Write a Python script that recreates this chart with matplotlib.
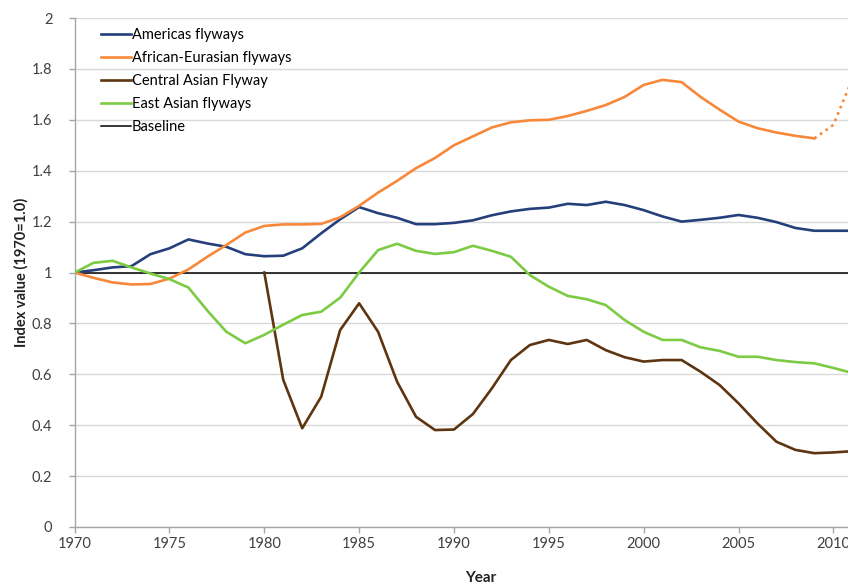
import matplotlib.pyplot as plt
import numpy as np

plt.rcParams['font.family'] = ['Lato', 'DejaVu Sans']

years = list(range(1970, 2012))

americas = [1.00, 1.009, 1.02, 1.025, 1.072, 1.095, 1.13, 1.114, 1.101, 1.072,
            1.064, 1.066, 1.095, 1.154, 1.209, 1.257, 1.233, 1.215, 1.19, 1.19,
            1.195, 1.205, 1.225, 1.24, 1.25, 1.255, 1.27, 1.265, 1.278, 1.265,
            1.245, 1.22, 1.20, 1.207, 1.215, 1.226, 1.215, 1.198, 1.175, 1.164,
            1.164, 1.164]

african_eurasian = [1.00, 0.979, 0.961, 0.953, 0.955, 0.976, 1.012, 1.062, 1.108, 1.157,
                    1.183, 1.189, 1.189, 1.191, 1.217, 1.262, 1.314, 1.36, 1.41, 1.45,
                    1.50, 1.535, 1.57, 1.59, 1.598, 1.60, 1.615, 1.635, 1.658, 1.69,
                    1.737, 1.757, 1.748, 1.69, 1.64, 1.593, 1.567, 1.55, 1.537, 1.527,
                    1.58, 1.76]
# last two years are provisional (dotted)
provisional_from = 2009

central_years = list(range(1980, 2012))
central_asian = [1.00, 0.578, 0.388, 0.512, 0.774, 0.879, 0.767, 0.571, 0.433, 0.381,
                 0.383, 0.444, 0.545, 0.656, 0.715, 0.735, 0.719, 0.735, 0.695, 0.667,
                 0.65, 0.656, 0.656, 0.61, 0.558, 0.486, 0.407, 0.335, 0.303, 0.29,
                 0.293, 0.298]

east_asian = [1.00, 1.038, 1.046, 1.02, 0.996, 0.974, 0.941, 0.85, 0.767, 0.722,
              0.755, 0.795, 0.833, 0.846, 0.901, 1.00, 1.088, 1.113, 1.085, 1.073,
              1.08, 1.105, 1.085, 1.062, 0.99, 0.944, 0.908, 0.895, 0.872, 0.813,
              0.767, 0.735, 0.735, 0.706, 0.692, 0.669, 0.669, 0.656, 0.648, 0.643,
              0.625, 0.605]

baseline = 1.0

c_blue = '#243F7A'
c_orange = '#F7883A'
c_brown = '#5E3511'
c_green = '#7DCA43'

fig = plt.figure(figsize=(8.48, 5.85), dpi=100)
# axes run past the right edge of the picture, like the cropped original
ax = fig.add_axes([74.6 / 848, 58 / 585, 796.7 / 848, 509 / 585])

yrs = np.array(years)
ae = np.array(african_eurasian)
solid = yrs <= provisional_from

ax.plot(years, americas, color=c_blue, lw=1.9, label='Americas flyways', zorder=3)
ax.plot(yrs[solid], ae[solid], color=c_orange, lw=1.9, label='African-Eurasian flyways', zorder=3)
ax.plot(yrs[yrs >= provisional_from], ae[yrs >= provisional_from], color=c_orange, lw=1.9,
        ls=(0, (1, 1.6)), zorder=3)
ax.plot(central_years, central_asian, color=c_brown, lw=1.9, label='Central Asian Flyway', zorder=3)
ax.plot(years, east_asian, color=c_green, lw=1.9, label='East Asian flyways', zorder=3)
ax.axhline(baseline, color='black', lw=1.1, label='Baseline', zorder=2)

ax.set_xlim(1970, 2012)
ax.set_ylim(0, 2)
ax.set_xticks(range(1970, 2011, 5))
ax.set_yticks(np.arange(0, 2.01, 0.2))
ax.set_yticklabels(['%g' % round(v, 1) for v in np.arange(0, 2.01, 0.2)])
ax.yaxis.grid(True, color='#D9D9D9', lw=1.0)
ax.set_axisbelow(True)

for side in ['top', 'right']:
    ax.spines[side].set_visible(False)
for side in ['left', 'bottom']:
    ax.spines[side].set_color('#A6A6A6')
    ax.spines[side].set_linewidth(1.0)
ax.tick_params(colors='#A6A6A6', labelcolor='#404040', labelsize=10.5, length=4, width=1.0)
ax.tick_params(axis='y', pad=12)

ax.set_xlabel('Year', fontsize=11, fontweight='bold', color='#222222')
ax.xaxis.set_label_coords(0.51, -0.086)
ax.set_ylabel('Index value (1970=1.0)', fontsize=10.5, fontweight='bold', color='#222222')
ax.yaxis.set_label_coords(-0.058, 0.5)

ax.legend(loc='upper left', bbox_to_anchor=(0.02, 1.0), frameon=False, fontsize=10.5,
          handlelength=2.1, handletextpad=0.05, labelspacing=0.62, borderaxespad=0.3)

fig.savefig('out.png', dpi=100)
